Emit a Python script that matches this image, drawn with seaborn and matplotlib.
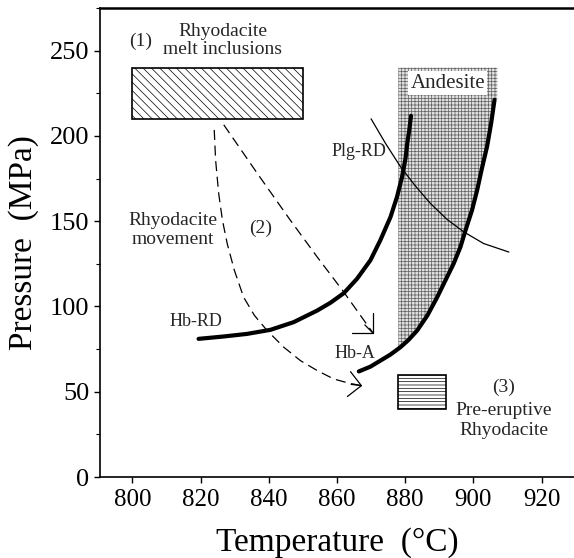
import numpy as np
import matplotlib
matplotlib.use("Agg")
import matplotlib.pyplot as plt
import seaborn as sns
from matplotlib.patches import Rectangle, Polygon
from matplotlib.ticker import MultipleLocator

# ---------------- data ----------------
hb_rd_T = [819.4, 826.8, 833.6, 840.5, 847.3, 854.2, 858.1, 862.0, 865.9,
           869.8, 872.7, 875.7, 877.6, 879.1, 880.1, 880.6, 881.2, 881.7]
hb_rd_P = [81.0, 82.4, 83.9, 86.3, 90.8, 97.6, 102.2, 107.8, 116.3,
           127.1, 138.8, 152.5, 164.3, 176.1, 186.9, 195.7, 203.5, 211.8]

hb_a_T = [866.4, 869.8, 872.7, 875.6, 878.6, 881.0, 883.5, 886.5, 889.4, 891.8,
          894.2, 896.2, 897.7, 899.6, 901.1, 902.5, 904.0, 905.2, 906.2]
hb_a_P = [61.9, 64.7, 68.2, 71.7, 76.1, 80.4, 85.9, 94.7, 105.5, 115.3,
          125.1, 134.9, 144.7, 156.5, 168.2, 181.0, 193.7, 207.4, 221.2]

plg_rd_T = [870.0, 874.2, 878.6, 883.0, 887.4, 892.3, 897.2, 903.0, 910.4]
plg_rd_P = [210.0, 195.7, 182.0, 170.6, 160.4, 151.0, 143.7, 136.9, 131.9]

arrow_straight_T = [826.8, 836.6, 846.3, 854.2, 862.0, 870.6]
arrow_straight_P = [206.5, 178.1, 150.6, 129.0, 108.4, 84.3]

arrow_curved_T = [824.0, 824.4, 825.3, 826.4, 827.8, 829.9, 832.6, 835.8,
                  839.5, 844.4, 849.3, 854.2, 859.0, 863.5, 867.4]
arrow_curved_P = [203.5, 185.9, 166.3, 150.6, 136.9, 121.2, 105.5, 94.7,
                  85.9, 76.1, 68.2, 62.4, 57.5, 55.0, 53.5]

melt_box_T = [800, 850]
melt_box_P = [210, 240]
pre_box_T = [878, 892]
pre_box_P = [40, 60]
andesite_T = [878, 907]
andesite_P = [76.1, 240]

x_ticks = [800, 820, 840, 860, 880, 900, 920]
y_ticks = [0, 50, 100, 150, 200, 250]

# ---------------- style ----------------
sns.set_theme(style="ticks")
plt.rcParams["font.family"] = ["Liberation Serif", "DejaVu Serif"]
plt.rcParams["hatch.linewidth"] = 0.5

fig = plt.figure(figsize=(5.74, 5.58), dpi=100)
W, H = 574, 558
ax = fig.add_axes([100 / W, 1 - 477 / H, 474 / W, (477 - 8) / H])
ax.set_xlim(790.5, 929.5)
ax.set_ylim(0, 275)

# Andesite stippled field
verts = [(andesite_T[0], andesite_P[0])]
verts += [(t, p) for t, p in zip(hb_a_T, hb_a_P) if p > andesite_P[0]]
verts += [(andesite_T[1], hb_a_P[-1]), (andesite_T[1], andesite_P[1]),
          (andesite_T[0], andesite_P[1])]
ax.add_patch(Polygon(verts, closed=True, facecolor="#e0e0e0", edgecolor="#606060",
                     hatch="+++++", lw=0, zorder=1))

# boxes
ax.add_patch(Rectangle((melt_box_T[0], melt_box_P[0]), melt_box_T[1] - melt_box_T[0],
                       melt_box_P[1] - melt_box_P[0], facecolor="white",
                       edgecolor="black", hatch="\\\\\\\\", lw=1.2, zorder=2))
ax.add_patch(Rectangle((pre_box_T[0], pre_box_P[0]), pre_box_T[1] - pre_box_T[0],
                       pre_box_P[1] - pre_box_P[0], facecolor="white",
                       edgecolor="black", hatch="-----", lw=1.2, zorder=2))

# curves
sns.lineplot(x=hb_rd_T, y=hb_rd_P, sort=False, estimator=None, color="black",
             lw=3.0, ax=ax, zorder=3)
sns.lineplot(x=hb_a_T, y=hb_a_P, sort=False, estimator=None, color="black",
             lw=3.0, ax=ax, zorder=3)
sns.lineplot(x=plg_rd_T, y=plg_rd_P, sort=False, estimator=None, color="black",
             lw=0.9, ax=ax, zorder=3)

# dashed movement paths
for Ts, Ps in [(arrow_straight_T, arrow_straight_P), (arrow_curved_T, arrow_curved_P)]:
    sns.lineplot(x=Ts, y=Ps, sort=False, estimator=None, color="black", lw=0.9,
                 ax=ax, zorder=3, linestyle=(0, (8, 4.5)))

ax.annotate("", xy=(arrow_straight_T[-1], arrow_straight_P[-1]), xytext=(-6, 6),
            textcoords="offset points",
            arrowprops=dict(arrowstyle="->,head_length=0.85,head_width=0.85",
                            lw=0.9, color="black", shrinkA=0, shrinkB=0))
ax.annotate("", xy=(arrow_curved_T[-1], arrow_curved_P[-1]), xytext=(-8, 1.0),
            textcoords="offset points",
            arrowprops=dict(arrowstyle="->,head_length=0.75,head_width=0.75",
                            lw=0.9, color="black", shrinkA=0, shrinkB=0))

# texts
fs = 14
ax.text(802.3, 255.5, "(1)", fontsize=fs, ha="center", va="center")
ax.text(826.5, 261.5, "Rhyodacite", fontsize=fs, ha="center", va="center")
ax.text(826.5, 250.5, "melt inclusions", fontsize=fs, ha="center", va="center")
ax.text(811.9, 150.5, "Rhyodacite", fontsize=fs, ha="center", va="center")
ax.text(811.9, 139.0, "movement", fontsize=fs, ha="center", va="center")
ax.text(837.5, 145.7, "(2)", fontsize=fs, ha="center", va="center")
ax.text(866.3, 190.8, "Plg-RD", fontsize=13, ha="center", va="center")
ax.text(818.6, 91.4, "Hb-RD", fontsize=13, ha="center", va="center")
ax.text(865.4, 72.5, "Hb-A", fontsize=13, ha="center", va="center")
ax.text(892.5, 231.0, "Andesite", fontsize=15, ha="center", va="center",
        bbox=dict(facecolor="white", edgecolor="none", pad=1.5), zorder=4)
ax.text(908.9, 52.5, "(3)", fontsize=fs, ha="center", va="center")
ax.text(908.9, 38.8, "Pre-eruptive", fontsize=fs, ha="center", va="center")
ax.text(908.9, 27.0, "Rhyodacite", fontsize=fs, ha="center", va="center")

# axes styling
ax.set_xticks(x_ticks)
ax.set_yticks(y_ticks)
ax.yaxis.set_minor_locator(MultipleLocator(25))
ax.tick_params(axis="x", which="major", labelsize=18, length=4.5, width=1.0,
               direction="out", color="black", labelcolor="black", pad=4)
ax.tick_params(axis="y", which="major", labelsize=19, length=4.5, width=1.0,
               direction="out", color="black", labelcolor="black", pad=3)
ax.tick_params(axis="y", which="minor", length=3, width=0.8, color="black")
ax.spines["right"].set_visible(False)
for s in ["left", "bottom"]:
    ax.spines[s].set_linewidth(1.2)
    ax.spines[s].set_color("black")
ax.spines["top"].set_linewidth(1.8)
ax.spines["top"].set_color("black")
ax.set_xlabel("Temperature  (°C)", fontsize=24, color="black", labelpad=12)
ax.set_ylabel("Pressure  (MPa)", fontsize=24, color="black", labelpad=8)

fig.savefig("out.png", dpi=100)
